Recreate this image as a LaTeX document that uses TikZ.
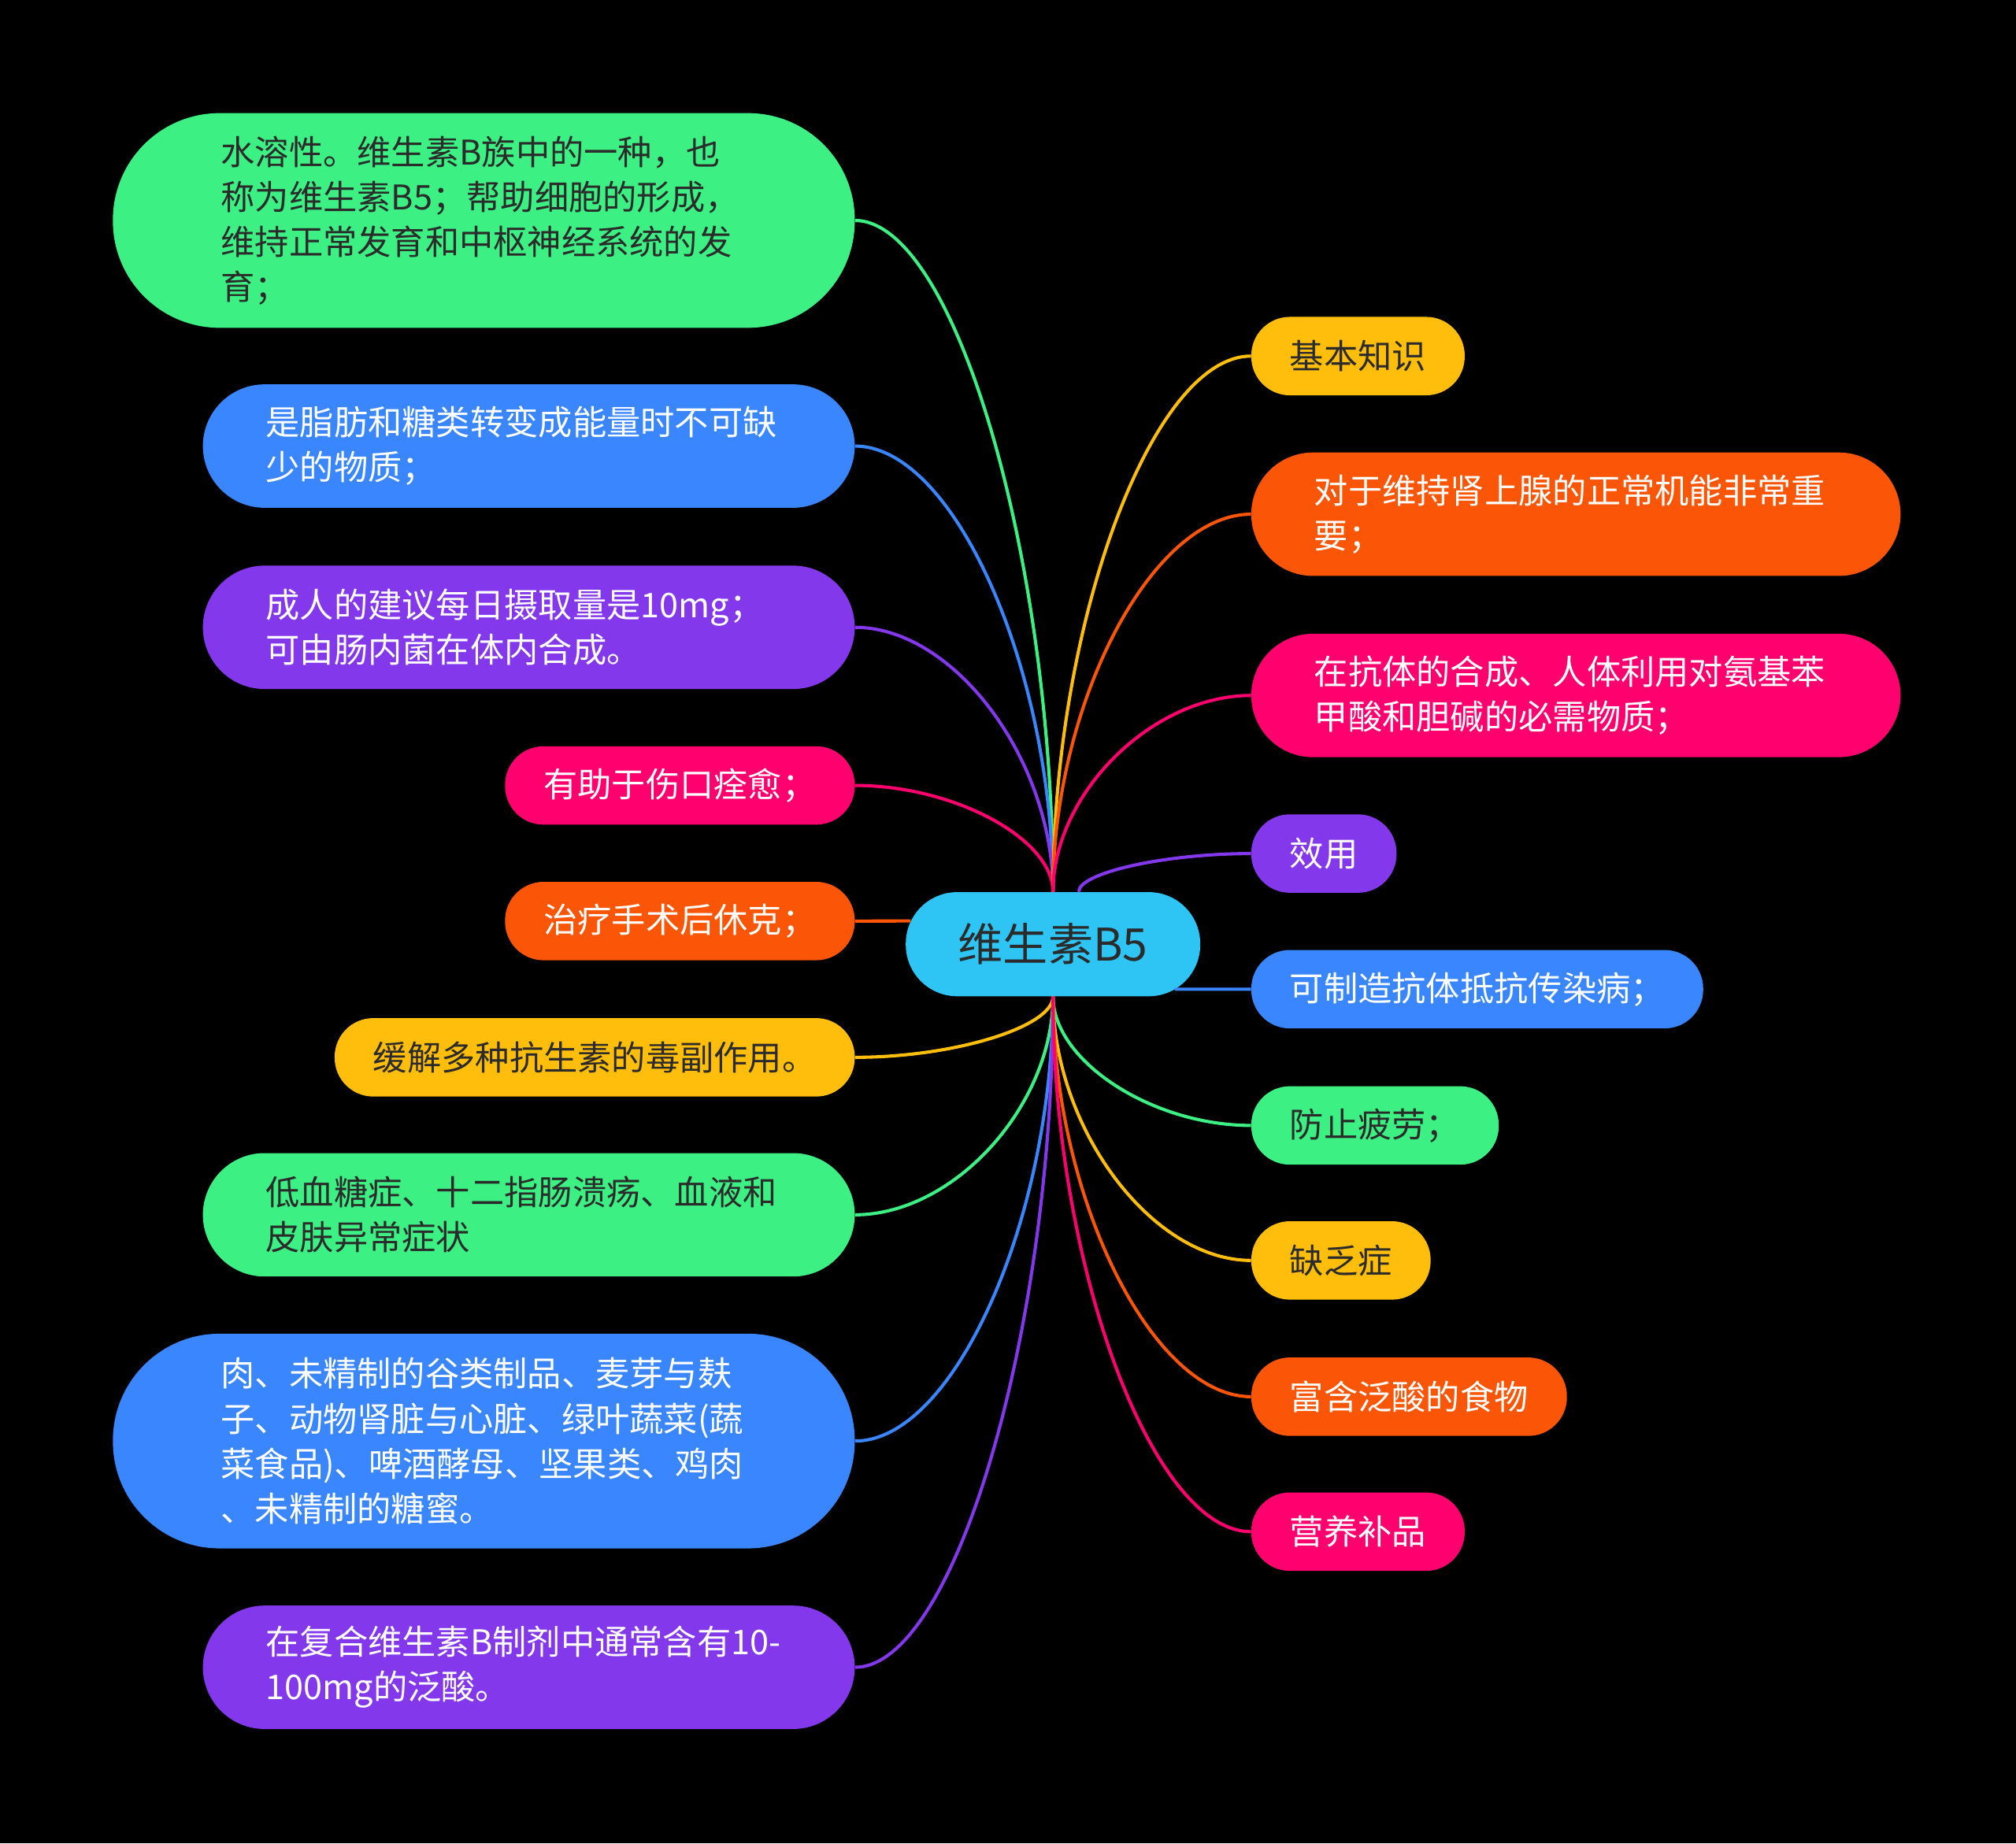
\documentclass[tikz,border=0pt]{standalone}
\usepackage{fontspec}
\usepackage{tikz}
\usetikzlibrary{calc}
\newfontfamily\cjk{Noto Sans CJK SC}
\definecolor{mgreen}{HTML}{3DF083}
\definecolor{mblue}{HTML}{3A86FF}
\definecolor{mpurple}{HTML}{8338EC}
\definecolor{mpink}{HTML}{FF006E}
\definecolor{morange}{HTML}{FB5607}
\definecolor{myellow}{HTML}{FFBE0B}
\definecolor{mcyan}{HTML}{2EC4F4}
\definecolor{ink}{HTML}{2B2B2B}

\begin{document}
\begin{tikzpicture}[x=1pt, y=-1pt,
		  topic/.style={rounded corners=30pt, minimum height=61pt, inner xsep=30pt, inner ysep=0pt,
		    font=\cjk\fontsize{26.5}{35}\selectfont},
		  twoline/.style={rounded corners=48pt, minimum height=96pt, inner xsep=49pt, text width=409pt, align=left},
		  fourline/.style={rounded corners=83pt, minimum height=167pt, inner xsep=84pt, text width=409pt, align=left},
		  branch/.style={line width=2.5pt, to path={.. controls ($(\tikztostart)!0.5!(\tikztostart|-\tikztotarget)$)
		    and ($(\tikztotarget)!0.5!(\tikztostart|-\tikztotarget)$) .. (\tikztotarget)}}]
		  % Black page
		  \fill[black] (0,0) rectangle (1568,1434);
		
		  % Central topic
		  \node[topic, fill=mcyan, text=ink, minimum width=229pt, minimum height=81pt, rounded corners=40pt,
		    font=\cjk\fontsize{35}{40}\selectfont] (root) at (819,734.5) {维生素B5};
		
		  % Left branches
		  \node[topic, fourline, fill=mgreen, text=ink, anchor=east] (l1) at (665,171.5)
		    {水溶性。维生素B族中的一种，也\\称为维生素B5；帮助细胞的形成，\\维持正常发育和中枢神经系统的发\\育；};
		  \node[topic, twoline, fill=mblue, text=white, anchor=east] (l2) at (665,347)
		    {是脂肪和糖类转变成能量时不可缺\\少的物质；};
		  \node[topic, twoline, fill=mpurple, text=white, anchor=east] (l3) at (665,488)
		    {成人的建议每日摄取量是10mg；\\可由肠内菌在体内合成。};
		  \node[topic, fill=mpink, text=white, anchor=east] (l4) at (665,611) {有助于伤口痊愈；};
		  \node[topic, fill=morange, text=white, anchor=east] (l5) at (665,716.5) {治疗手术后休克；};
		  \node[topic, fill=myellow, text=ink, anchor=east] (l6) at (665,822.5) {缓解多种抗生素的毒副作用。};
		  \node[topic, twoline, fill=mgreen, text=ink, anchor=east] (l7) at (665,945)
		    {低血糖症、十二指肠溃疡、血液和\\皮肤异常症状};
		  \node[topic, fourline, fill=mblue, text=white, anchor=east] (l8) at (665,1121)
		    {肉、未精制的谷类制品、麦芽与麸\\子、动物肾脏与心脏、绿叶蔬菜(蔬\\菜食品)、啤酒酵母、坚果类、鸡肉\\、未精制的糖蜜。};
		  \node[topic, twoline, fill=mpurple, text=white, anchor=east] (l9) at (665,1297)
		    {在复合维生素B制剂中通常含有10-\\100mg的泛酸。};
		
		  % Right branches
		  \node[topic, fill=myellow, text=ink, anchor=west] (r1) at (973,277) {基本知识};
		  \node[topic, twoline, text width=407pt, fill=morange, text=white, anchor=west] (r2) at (973,400)
		    {对于维持肾上腺的正常机能非常重\\要；};
		  \node[topic, twoline, text width=407pt, fill=mpink, text=white, anchor=west] (r3) at (973,541)
		    {在抗体的合成、人体利用对氨基苯\\甲酸和胆碱的必需物质；};
		  \node[topic, fill=mpurple, text=white, anchor=west] (r4) at (973,664) {效用};
		  \node[topic, fill=mblue, text=white, anchor=west] (r5) at (973,769.5) {可制造抗体抵抗传染病；};
		  \node[topic, fill=mgreen, text=ink, anchor=west] (r6) at (973,875.5) {防止疲劳；};
		  \node[topic, fill=myellow, text=ink, anchor=west] (r7) at (973,980.5) {缺乏症};
		  \node[topic, fill=morange, text=white, anchor=west] (r8) at (973,1086.5) {富含泛酸的食物};
		  \node[topic, fill=mpink, text=white, anchor=west] (r9) at (973,1191.5) {营养补品};
		
		  % Connectors to the left
		  \draw[branch, mgreen] (root.north) to (l1.east);
		  \draw[branch, mblue] (root.north) to (l2.east);
		  \draw[branch, mpurple] (root.north) to (l3.east);
		  \draw[branch, mpink] (root.north) to (l4.east);
		  \draw[branch, morange] ([xshift=4pt]root.171) to (l5.east);
		  \draw[branch, myellow] (root.south) to (l6.east);
		  \draw[branch, mgreen] (root.south) to (l7.east);
		  \draw[branch, mblue] (root.south) to (l8.east);
		  \draw[branch, mpurple] (root.south) to (l9.east);
		
		  % Connectors to the right
		  \draw[branch, myellow] (root.north) to (r1.west);
		  \draw[branch, morange] (root.north) to (r2.west);
		  \draw[branch, mpink] (root.north) to (r3.west);
		  \draw[branch, mpurple] ([xshift=20pt]root.north) to (r4.west);
		  \draw[branch, mblue] ([xshift=-20pt]root.-17) to (r5.west);
		  \draw[branch, mgreen] (root.south) to (r6.west);
		  \draw[branch, myellow] (root.south) to (r7.west);
		  \draw[branch, morange] (root.south) to (r8.west);
		  \draw[branch, mpink] (root.south) to (r9.west);
		\end{tikzpicture}
\end{document}
